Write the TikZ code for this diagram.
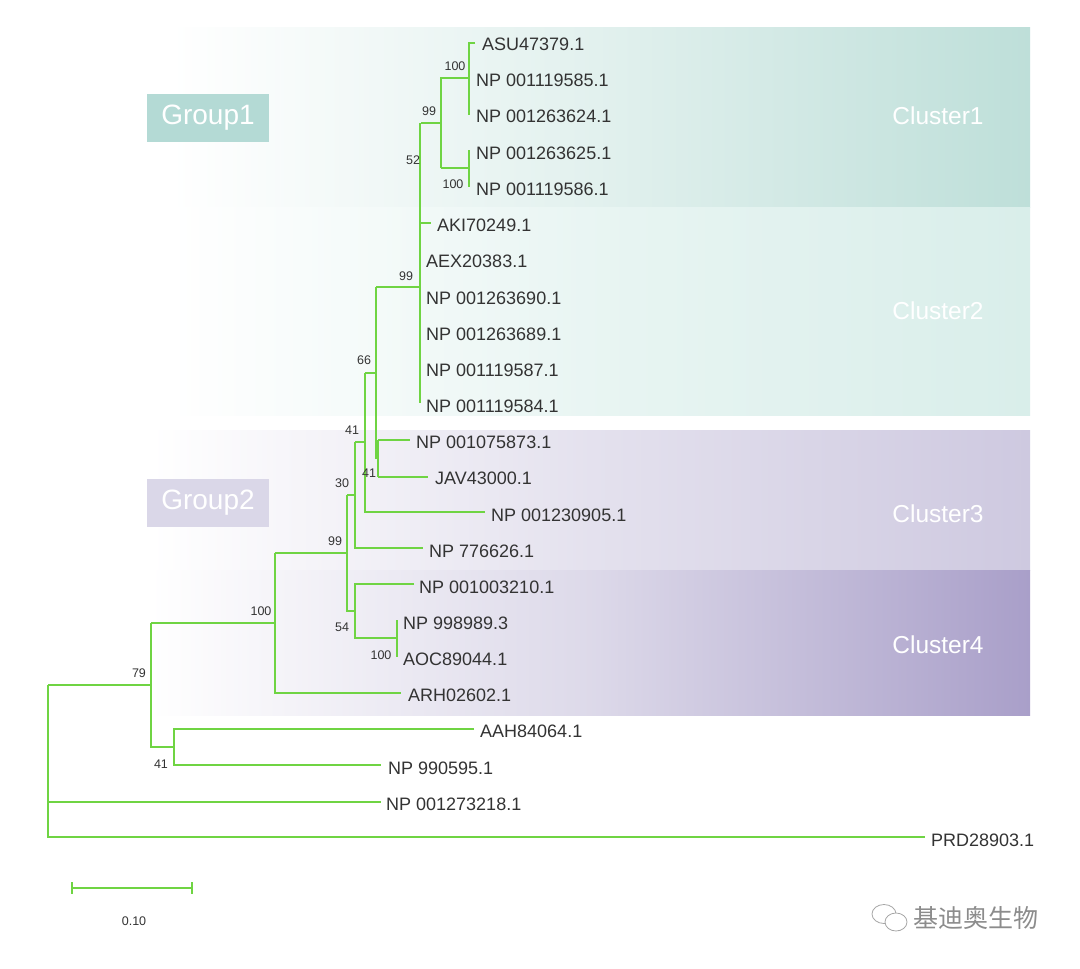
\documentclass[tikz,border=0pt]{standalone}
\usepackage{fontspec}
\setmainfont{Liberation Sans}
\newfontfamily\cjk{Noto Sans CJK SC}
\begin{document}
\begin{tikzpicture}[x=1pt,y=-1pt,
  br/.style={draw=brgreen,line width=1.3pt},
  lf/.style={anchor=west,inner sep=0pt,font=\fontsize{18}{20}\selectfont,text=black!80},
  bs/.style={inner sep=0pt,font=\fontsize{12.5}{14}\selectfont,text=black!80},
  cl/.style={inner sep=0pt,font=\fontsize{24.5}{26}\selectfont,text=white},
  grp/.style={minimum width=122pt,minimum height=48pt,inner sep=0pt,font=\fontsize{28}{30}\selectfont,text=white}]
\definecolor{brgreen}{HTML}{6FD443}
\definecolor{cA}{HTML}{BEDFD9}
\definecolor{cB}{HTML}{D9EEEA}
\definecolor{cC}{HTML}{CEC9E0}
\definecolor{cD}{HTML}{A99FC9}
\useasboundingbox (0,0) rectangle (1080,969);
\fill[white] (0,0) rectangle (1080,969);
% bands
\shade[left color=white,right color=cA,middle color=cA!45] (170,27) rectangle (1030,207);
\shade[left color=white,right color=cB,middle color=cB!60] (170,207) rectangle (1030,415);
\shade[left color=white,right color=cC,middle color=cC!55] (150,430) rectangle (1030,570);
\shade[left color=white,right color=cD,middle color=cC!70] (150,570) rectangle (1030,715);
\node[grp,fill=cA!95!teal] (g1) at (208,118) {Group1};
\node[grp,fill=cC!75] (g2) at (208,503) {Group2};
\node[cl] (c1) at (938,116) {Cluster1};
\node[cl] (c2) at (938,311) {Cluster2};
\node[cl] (c3) at (938,514) {Cluster3};
\node[cl] (c4) at (938,645) {Cluster4};
% tree
\draw[br] (475,43) -- (469,43) -- (469,115);
\draw[br] (441,168) -- (441,78) -- (469,78);
\draw[br] (469,150) -- (469,187); \draw[br] (441,168) -- (469,168);
\draw[br] (421,123) -- (441,123);
\draw[br] (420,123) -- (420,403);
\draw[br] (420,223) -- (431,223);
\draw[br] (376,287) -- (420,287);
\draw[br] (376,287) -- (376,458) -- (378,458);
\draw[br] (378,440) -- (378,477);
\draw[br] (378,440) -- (410,440); \draw[br] (378,477) -- (428,477);
\draw[br] (365,373) -- (376,373);
\draw[br] (365,373) -- (365,512) -- (485,512);
\draw[br] (355,442) -- (365,442);
\draw[br] (355,442) -- (355,548) -- (423,548);
\draw[br] (347,495) -- (355,495);
\draw[br] (347,495) -- (347,611) -- (355,611);
\draw[br] (275,553) -- (347,553);
\draw[br] (414,584) -- (355,584) -- (355,638) -- (397,638);
\draw[br] (397,620) -- (397,657);
\draw[br] (275,553) -- (275,693) -- (401,693);
\draw[br] (151,623) -- (275,623);
\draw[br] (151,623) -- (151,747) -- (174,747);
\draw[br] (474,729) -- (174,729) -- (174,765) -- (381,765);
\draw[br] (48,685) -- (151,685);
\draw[br] (48,685) -- (48,837) -- (925,837);
\draw[br] (48,802) -- (381,802);
% leaves
\node[lf] (l1) at (482,44) {ASU47379.1};
\node[lf] (l2) at (476,80) {NP 001119585.1};
\node[lf] (l3) at (476,116) {NP 001263624.1};
\node[lf] (l4) at (476,153) {NP 001263625.1};
\node[lf] (l5) at (476,189) {NP 001119586.1};
\node[lf] (l6) at (437,225) {AKI70249.1};
\node[lf] (l7) at (426,261) {AEX20383.1};
\node[lf] (l8) at (426,298) {NP 001263690.1};
\node[lf] (l9) at (426,334) {NP 001263689.1};
\node[lf] (l10) at (426,370) {NP 001119587.1};
\node[lf] (l11) at (426,406) {NP 001119584.1};
\node[lf] (l12) at (416,442) {NP 001075873.1};
\node[lf] (l13) at (435,478) {JAV43000.1};
\node[lf] (l14) at (491,515) {NP 001230905.1};
\node[lf] (l15) at (429,551) {NP 776626.1};
\node[lf] (l16) at (419,587) {NP 001003210.1};
\node[lf] (l17) at (403,623) {NP 998989.3};
\node[lf] (l18) at (403,659) {AOC89044.1};
\node[lf] (l19) at (408,695) {ARH02602.1};
\node[lf] (l20) at (480,731) {AAH84064.1};
\node[lf] (l21) at (388,768) {NP 990595.1};
\node[lf] (l22) at (386,804) {NP 001273218.1};
\node[lf] (l23) at (931,840) {PRD28903.1};
% bootstrap
\node[bs] (b1) at (455,66) {100};
\node[bs] (b2) at (429,111) {99};
\node[bs] (b3) at (413,160) {52};
\node[bs] (b4) at (453,184) {100};
\node[bs] (b5) at (406,276) {99};
\node[bs] (b6) at (364,360) {66};
\node[bs] (b7) at (352,430) {41};
\node[bs] (b8) at (369,473) {41};
\node[bs] (b9) at (342,483) {30};
\node[bs] (b10) at (335,541) {99};
\node[bs] (b11) at (342,627) {54};
\node[bs] (b12) at (381,655) {100};
\node[bs] (b13) at (261,611) {100};
\node[bs] (b14) at (139,673) {79};
\node[bs] (b15) at (161,764) {41};
% scale bar
\draw[br] (72,882) -- (72,894) (192,882) -- (192,894) (72,888) -- (192,888);
\node[bs] (sb) at (134,921) {0.10};
% watermark
\draw[black!35,line width=0.8pt] (884,914) ellipse (12pt and 9.5pt);
\draw[black!35,line width=0.8pt,fill=white] (896,922) ellipse (11pt and 9pt);
\node[inner sep=0pt,font=\cjk\fontsize{25}{27}\selectfont,text=black!45,anchor=west] (wm) at (913,918) {基迪奥生物};
\end{tikzpicture}
\end{document}
